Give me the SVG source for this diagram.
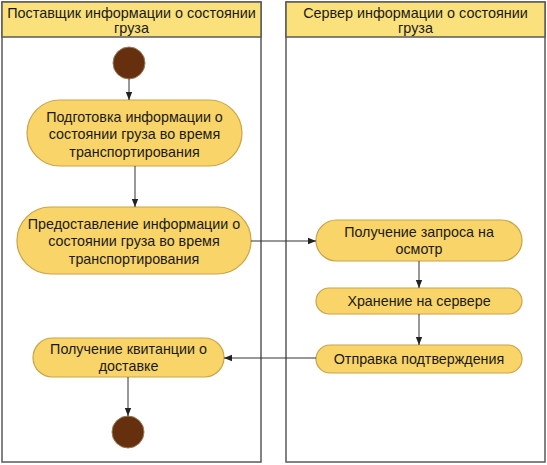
<svg xmlns="http://www.w3.org/2000/svg" width="547" height="465" viewBox="0 0 547 465">
<style>
.lane{fill:#ffffff;stroke:#5a5a5a;stroke-width:1.5}
.hdr{fill:#fbe17c;stroke:#5a5a5a;stroke-width:1.5}
.node{fill:#f9d468;stroke:#c9a448;stroke-width:1.2}
.dot{fill:#66300f;stroke:#9a7a5a;stroke-width:1}
text{font-family:"Liberation Sans",Arial,sans-serif;font-size:14.3px;fill:#1a1a1a;text-anchor:middle}
.ht{font-size:14.4px}
.edge{stroke:#333;stroke-width:1;fill:none;marker-end:url(#arr)}
</style>
<defs>
<marker id="arr" viewBox="0 0 10 10" refX="10" refY="5" markerWidth="8" markerHeight="8" markerUnits="userSpaceOnUse" orient="auto">
<path d="M0,1 L10,5 L0,9 z" fill="#222"/>
</marker>
</defs>
<g id="lane-supplier">
<rect class="lane" x="2" y="2" width="259" height="460"/>
<rect class="hdr" x="2" y="2" width="259" height="35"/>
<text class="ht" x="131.5" y="18">Поставщик информации о состоянии</text>
<text class="ht" x="131.5" y="33">груза</text>
</g>
<g id="lane-server">
<rect class="lane" x="286" y="2" width="259" height="460"/>
<rect class="hdr" x="286" y="2" width="259" height="35"/>
<text class="ht" x="415.5" y="18">Сервер информации о состоянии</text>
<text class="ht" x="415.5" y="33">груза</text>
</g>
<g id="start"><circle class="dot" cx="129" cy="63" r="16"/></g>
<g id="n1">
<rect class="node" x="27" y="100" width="215" height="66" rx="33"/>
<text x="134.5" y="122">Подготовка информации о</text>
<text x="134.5" y="139">состоянии груза во время</text>
<text x="134.5" y="157">транспортирования</text>
</g>
<g id="n2">
<rect class="node" x="17" y="207" width="234" height="67" rx="33.5"/>
<text x="134" y="229">Предоставление информации о</text>
<text x="134" y="246">состоянии груза во время</text>
<text x="134" y="264">транспортирования</text>
</g>
<g id="n3">
<rect class="node" x="316" y="220" width="206" height="41" rx="20.5"/>
<text x="419" y="237">Получение запроса на</text>
<text x="419" y="254">осмотр</text>
</g>
<g id="n4">
<rect class="node" x="316" y="288" width="206" height="26" rx="13"/>
<text x="419" y="306">Хранение на сервере</text>
</g>
<g id="n5">
<rect class="node" x="316" y="345" width="206" height="28" rx="14"/>
<text x="419" y="364">Отправка подтверждения</text>
</g>
<g id="n6">
<rect class="node" x="33" y="338" width="191" height="39" rx="19.5"/>
<text x="128.5" y="354">Получение квитанции о</text>
<text x="128.5" y="371">доставке</text>
</g>
<g id="end"><circle class="dot" cx="128" cy="432" r="16"/></g>
<g id="connectors">
<path class="edge" d="M129,79 V100"/>
<path class="edge" d="M135,166 V207"/>
<path class="edge" d="M251,241 H316"/>
<path class="edge" d="M419,261 V288"/>
<path class="edge" d="M419,314 V345"/>
<path class="edge" d="M316,358 H224"/>
<path class="edge" d="M128,377 V416"/>
</g>
</svg>
